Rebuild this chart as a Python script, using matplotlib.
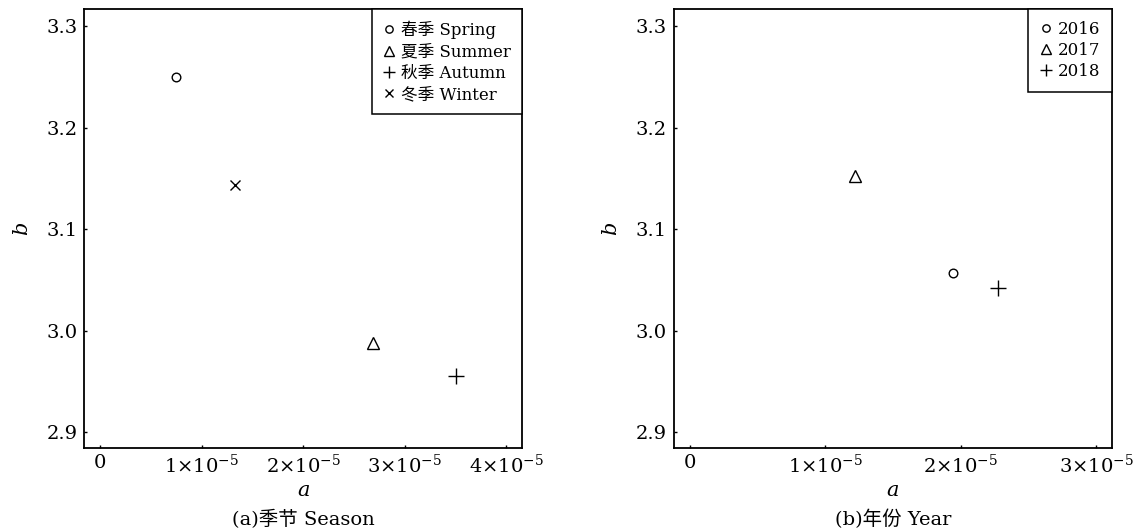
import matplotlib
matplotlib.use('Agg')
import matplotlib.pyplot as plt

plt.rcParams['font.family'] = ['DejaVu Serif', 'Noto Sans CJK SC']
plt.rcParams['mathtext.fontset'] = 'dejavuserif'

# (a) season
season_labels = ['春季 Spring', '夏季 Summer', '秋季 Autumn', '冬季 Winter']
season_a = [0.742e-5, 2.687e-5, 3.508e-5, 1.330e-5]
season_b = [3.250, 2.988, 2.955, 3.143]

# (b) year
year_labels = ['2016', '2017', '2018']
year_a = [1.939e-5, 1.219e-5, 2.275e-5]
year_b = [3.057, 3.152, 3.042]

markers = [('o', 6.2), ('^', 8), ('+', 11), ('x', 7.5)]

yticks = [2.9, 3.0, 3.1, 3.2, 3.3]
ytick_labels = ['2.9', '3.0', '3.1', '3.2', '3.3']

W, H = 1140, 532
fig = plt.figure(figsize=(11.4, 5.32), dpi=100)
ax1 = fig.add_axes([84.3 / W, (H - 448.3) / H, 438 / W, 439 / H])
ax2 = fig.add_axes([673.7 / W, (H - 448.3) / H, 438 / W, 439 / H])


def style(ax, xmax_ticks, xlim, title):
    ax.set_ylim(2.884, 3.3165)
    ax.set_xlim(*xlim)
    ax.set_yticks(yticks)
    ax.set_yticklabels(ytick_labels)
    xt = [i * 1e-5 for i in range(xmax_ticks + 1)]
    ax.set_xticks(xt)
    ax.set_xticklabels(['0'] + ['$%d{\\times}10^{-5}$' % i for i in range(1, xmax_ticks + 1)])
    ax.tick_params(direction='in', length=2.5, width=1, labelsize=14,
                   top=False, right=False, colors='black')
    ax.tick_params(axis='x', pad=4)
    ax.tick_params(axis='y', pad=5)
    for s in ax.spines.values():
        s.set_linewidth(1.3)
    ax.set_xlabel('$a$', fontsize=15)
    ax.xaxis.label.set_va('center')
    ax.xaxis.set_label_coords(0.5, -0.0966)
    ax.set_ylabel('$b$', fontsize=15)
    ax.yaxis.label.set_va('center')
    ax.yaxis.set_label_coords(-0.142, 0.5)
    ax.text(0.5, -0.162, title, transform=ax.transAxes, ha='center', va='center', fontsize=14)


for i, lab in enumerate(season_labels):
    m, ms = markers[i]
    ax1.plot(season_a[i], season_b[i], linestyle='none', marker=m, markersize=ms,
             markerfacecolor='none', markeredgecolor='black', markeredgewidth=1, label=lab)
for i, lab in enumerate(year_labels):
    m, ms = markers[i]
    ax2.plot(year_a[i], year_b[i], linestyle='none', marker=m, markersize=ms,
             markerfacecolor='none', markeredgecolor='black', markeredgewidth=1, label=lab)

style(ax1, 4, (-0.157e-5, 4.159e-5), '(a)季节 Season')
style(ax2, 3, (-0.12e-5, 3.114e-5), '(b)年份 Year')

for ax in (ax1, ax2):
    leg = ax.legend(loc='upper right', borderaxespad=0, fontsize=12, fancybox=False,
                    handlelength=0.7, handletextpad=0.35, labelspacing=0.25,
                    borderpad=0.7, framealpha=1, markerscale=0.85)
    leg.get_frame().set_edgecolor('black')
    leg.get_frame().set_linewidth(1.1)

fig.savefig('out.png', dpi=100, facecolor='white')
